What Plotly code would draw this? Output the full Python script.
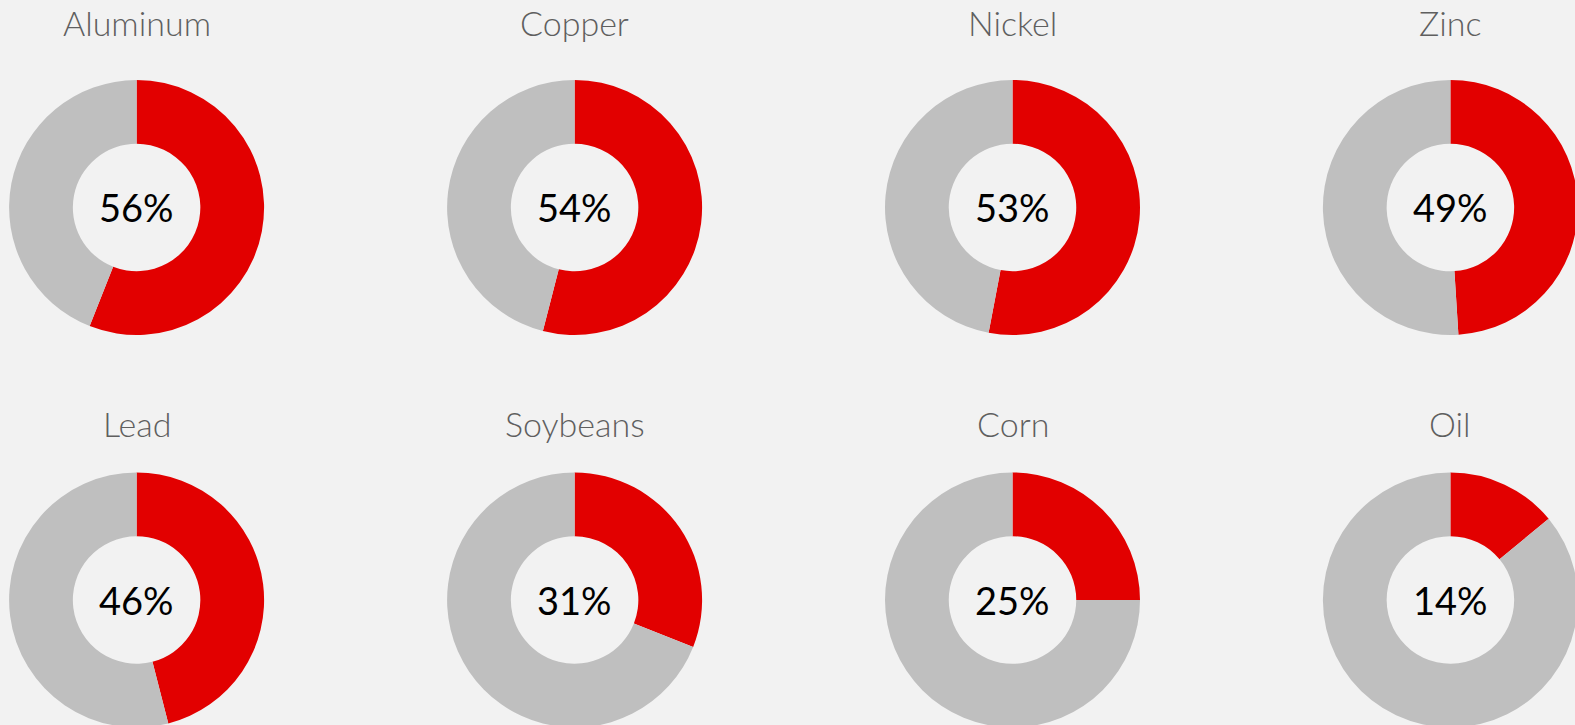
import plotly.graph_objects as go

commodities = ["Aluminum", "Copper", "Nickel", "Zinc", "Lead", "Soybeans", "Corn", "Oil"]
shares = [56, 54, 53, 49, 46, 31, 25, 14]
labels = ["56%", "54%", "53%", "49%", "46%", "31%", "25%", "14%"]

# figure is slightly larger than the viewport so the edge donuts get cropped like the reference
W, H = 1582, 732
col_cx = [136.6, 574.6, 1012.5, 1450.4]
row_cy = [207.5, 600.0]
row_title_y = [22.0, 423.0]
R = 127.5

RED = "#e20000"
GRAY = "#bfbfbf"

fig = go.Figure()
annotations = []
for i, (name, v, lab) in enumerate(zip(commodities, shares, labels)):
    r, c = divmod(i, 4)
    cx, cy = col_cx[c], row_cy[r]
    x0, x1 = max(cx - R, 0), min(cx + R, W)
    y0, y1 = max(cy - R, 0), min(cy + R, H)
    fig.add_trace(go.Pie(
        values=[v, 100 - v],
        labels=["share", "rest"],
        sort=False,
        direction="clockwise",
        rotation=0,
        hole=0.5,
        marker=dict(colors=[RED, GRAY], line=dict(width=0)),
        textinfo="none",
        hoverinfo="skip",
        showlegend=False,
        domain=dict(x=[x0 / W, x1 / W], y=[1 - y1 / H, 1 - y0 / H]),
    ))
    pcx = (x0 + x1) / 2
    pcy = (y0 + y1) / 2
    annotations.append(dict(
        x=pcx / W, y=1 - pcy / H, xref="paper", yref="paper",
        text=lab, showarrow=False, xanchor="center", yanchor="middle",
        font=dict(family="Lato", size=38, color="#000000"),
    ))
    annotations.append(dict(
        x=cx / W, y=1 - row_title_y[r] / H, xref="paper", yref="paper",
        text=name, showarrow=False, xanchor="center", yanchor="middle",
        font=dict(family="Lato", size=34, color="#5f5f5f", weight=300),
    ))

fig.update_layout(
    width=W, height=H,
    margin=dict(l=0, r=0, t=0, b=0),
    paper_bgcolor="#f2f2f2",
    plot_bgcolor="#f2f2f2",
    annotations=annotations,
)
fig.write_html(
    "out.html",
    config={"displayModeBar": False},
    post_script="document.body.style.margin='0';document.body.style.overflow='hidden';document.body.style.background='#f2f2f2';",
)
